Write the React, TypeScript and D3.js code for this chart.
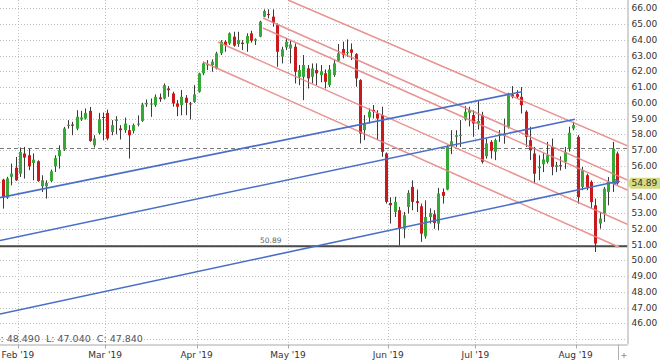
import React from "react";
import * as d3 from "d3";

// ---- Data (daily candles, left to right) ----
const opens = [
  55.12, 53.98, 55.3, 55.88, 55.5, 56.78, 56.67, 56.18, 56.29, 54.7,
  54.7, 55.04, 55.97, 56.61, 57.03, 58.55, 58.62, 58.36, 58.94, 59.0,
  59.49, 57.3, 58.09, 59.1, 59.36, 58.15, 58.85, 58.37, 58.26, 58.26,
  58.22, 58.62, 58.85, 59.9, 59.95, 59.85, 60.34, 60.27, 60.91, 60.59,
  59.96, 59.85, 60.32, 59.96, 60.06, 60.7, 61.87, 62.38, 62.4, 62.18,
  63.14, 63.88, 63.77, 64.2, 63.73, 63.82, 63.77, 64.41, 63.94, 64.2,
  65.47, 65.64, 65.47, 64.94, 62.93, 63.52, 63.45, 63.56, 61.65, 61.65,
  62.18, 61.65, 62.08, 61.76, 61.87, 61.12, 61.76, 62.67, 63.41, 63.18,
  63.39, 63.09, 61.44, 58.26, 59.07, 59.55, 59.32, 59.22, 56.78, 53.64,
  53.07, 53.18, 52.01, 53.39, 54.66, 53.75, 53.43, 51.52, 52.75, 52.92,
  52.33, 54.34, 54.49, 57.27, 57.84, 57.9, 58.94, 59.37, 59.22, 58.7,
  59.22, 56.61, 57.52, 56.89, 57.9, 57.9, 58.48, 60.53, 60.55, 60.38,
  59.43, 57.63, 56.78, 55.85, 56.1, 56.25, 57.2, 55.93, 56.04, 56.25,
  57.1, 58.37, 57.84, 54.66, 55.4, 54.98, 53.49, 52.33, 52.97, 54.34,
  54.87, 56.78,
];
const highs = [
  55.18, 55.3, 56.14, 56.56, 57.16, 57.2, 57.1, 56.78, 56.35, 55.4,
  55.08, 55.76, 56.67, 57.3, 58.47, 58.9, 58.79, 59.53, 59.49, 59.64,
  59.74, 57.94, 59.36, 59.38, 59.57, 58.9, 59.15, 58.58, 59.06, 58.58,
  58.68, 59.2, 60.0, 60.21, 60.27, 60.53, 60.59, 61.23, 61.06, 60.7,
  60.17, 60.81, 60.49, 60.06, 61.12, 61.91, 62.61, 62.71, 62.76, 63.24,
  63.98, 63.98, 64.47, 64.51, 64.51, 63.98, 64.41, 64.58, 64.09, 65.21,
  65.93, 65.93, 65.93, 65.04, 63.56, 64.09, 63.94, 63.77, 62.4, 63.03,
  62.4, 62.5, 62.5, 62.4, 62.12, 62.4, 62.75, 63.73, 63.88, 64.03,
  63.77, 63.15, 61.5, 59.22, 59.64, 59.86, 59.53, 59.75, 56.85, 54.0,
  54.03, 53.39, 53.07, 54.45, 55.08, 54.49, 53.6, 53.81, 53.3, 53.18,
  54.6, 54.56, 57.3, 58.26, 58.26, 58.9, 59.79, 59.75, 59.53, 60.1,
  59.43, 57.73, 57.63, 57.73, 58.27, 59.0, 60.64, 61.06, 60.8, 61.0,
  59.53, 58.48, 57.2, 56.67, 56.8, 57.52, 57.73, 56.25, 56.6, 57.2,
  58.48, 58.79, 57.95, 55.93, 55.5, 55.08, 53.92, 53.07, 54.66, 55.29,
  57.52, 56.9,
];
const lows = [
  53.28, 53.9, 54.76, 55.04, 55.29, 55.19, 55.72, 55.08, 54.98, 54.34,
  53.92, 54.97, 55.61, 55.82, 56.95, 58.36, 57.94, 58.26, 58.85, 58.94,
  57.52, 57.16, 58.0, 57.62, 57.62, 57.94, 58.0, 57.67, 58.09, 56.46,
  58.05, 58.5, 58.79, 59.74, 59.11, 59.74, 60.06, 60.21, 60.38, 59.75,
  59.15, 59.21, 59.21, 58.94, 60.0, 60.64, 61.76, 62.08, 61.97, 62.12,
  63.03, 63.24, 63.67, 63.56, 63.56, 63.35, 63.24, 63.82, 63.67, 64.16,
  65.43, 65.36, 64.83, 62.29, 62.5, 63.35, 62.5, 61.23, 61.12, 60.17,
  60.91, 61.23, 61.12, 61.3, 60.91, 61.0, 61.65, 62.6, 62.82, 62.92,
  62.71, 61.02, 57.42, 57.63, 58.69, 59.0, 57.63, 56.57, 53.6, 52.33,
  52.75, 50.95, 51.4, 52.97, 53.18, 53.07, 51.17, 51.38, 52.33, 52.0,
  51.9, 53.6, 54.45, 56.74, 57.2, 57.2, 58.86, 58.5, 57.84, 58.3,
  56.14, 56.46, 56.46, 56.36, 57.52, 57.4, 58.37, 60.28, 60.28, 59.32,
  57.2, 56.36, 54.87, 55.08, 55.6, 56.14, 55.4, 55.6, 55.7, 55.8,
  56.9, 58.26, 53.6, 54.45, 54.45, 53.28, 50.53, 52.01, 52.44, 53.49,
  54.34, 54.8,
];
const closes = [
  53.98, 55.2, 55.5, 55.08, 56.88, 56.52, 55.97, 56.39, 55.04, 55.08,
  54.91, 55.65, 56.5, 56.99, 58.37, 58.6, 58.54, 59.11, 59.07, 59.36,
  57.58, 57.73, 58.96, 59.07, 57.73, 58.58, 58.94, 58.26, 58.68, 57.94,
  58.58, 58.68, 59.89, 60.0, 59.95, 60.38, 60.23, 61.12, 60.8, 59.96,
  59.75, 60.38, 60.0, 59.9, 60.53, 61.87, 62.5, 62.46, 62.61, 63.14,
  63.88, 63.67, 64.41, 63.63, 63.98, 63.73, 64.24, 63.94, 64.03, 65.15,
  65.83, 65.57, 65.09, 63.24, 63.39, 63.88, 63.7, 61.97, 62.08, 62.4,
  61.55, 62.18, 61.87, 62.0, 61.33, 62.12, 62.5, 63.14, 63.03, 63.22,
  63.18, 61.55, 58.05, 58.69, 59.43, 59.45, 59.0, 56.89, 53.71, 53.5,
  53.71, 52.01, 52.86, 54.28, 53.71, 53.64, 51.69, 52.75, 53.0, 52.37,
  54.24, 54.09, 57.2, 57.56, 57.94, 57.96, 59.43, 59.54, 58.69, 58.85,
  56.25, 57.42, 56.95, 57.63, 58.0, 58.05, 60.6, 60.38, 60.38, 59.85,
  57.84, 56.99, 55.5, 55.95, 56.4, 56.67, 55.93, 56.04, 55.97, 56.88,
  58.1, 58.58, 54.02, 55.72, 54.66, 53.7, 51.06, 52.65, 54.55, 54.98,
  57.1, 54.89,
];

// month tick labels and their positions (in candle-index units)
const monthLabels = ["Feb '19", "Mar '19", "Apr '19", "May '19", "Jun '19", "Jul '19", "Aug '19"];
const monthPositions = [3.5, 23.5, 44.5, 65.5, 88.5, 108.5, 131.5];

// price axis ticks
const priceTicks = [46, 47, 48, 49, 50, 51, 52, 53, 54, 55, 56, 57, 58, 59, 60, 61, 62, 63, 64, 65, 66];
const gridPrices = [45, 46, 47, 48, 49, 50, 51, 52, 53, 54, 55, 56, 57, 58, 59, 60, 61, 62, 63, 64, 65, 66];

// trend lines: [startIndex, startPrice, endIndex, endPrice]
const redLines = [
  [65.48, 66.527, 143.51, 57.257],
  [59.74, 65.384, 143.51, 55.073],
  [59.74, 64.749, 143.51, 54.438],
  [49.41, 63.86, 143.51, 52.273],
  [45.97, 62.59, 141.0, 50.895],
];
const blueLines = [
  [-0.62, 53.981, 119.2, 60.705],
  [-0.62, 51.257, 131.35, 58.952],
  [-0.62, 46.59, 141.0, 55.003],
];

const supportLevel = 50.89;
const dashedLevel = 57.15;
const lastPrice = 54.89;
const ohlcText = ": 48.490  L: 47.040  C: 47.840";

export default function App() {
  const W = 660;
  const H = 361;
  const plotRight = 627.5;
  const plotBottom = 344.5;
  const font = "'DejaVu Sans', Verdana, sans-serif";

  const x = d3.scaleLinear().domain([0, 141]).range([2.7, 617]);
  const y = d3.scaleLinear().domain([46, 66]).range([323.3, 8.3]);
  const crisp = (v: number) => Math.round(v) + 0.5;
  const line = d3
    .line<[number, number]>()
    .x((d) => x(d[0]))
    .y((d) => y(d[1]));

  const candles = opens.map((o, i) => ({ o, h: highs[i], l: lows[i], c: closes[i], i }));

  const yLast = y(lastPrice);
  const l5 = redLines[4];
  const bc = blueLines[2];
  const visibleTicks = priceTicks.filter((p) => Math.abs(y(p) - yLast) > 9);

  return (
    <svg
      width={W}
      height={H}
      style={{ position: "absolute", left: 0, top: 0, background: "#fff" }}
      fontFamily={font}
    >
      <defs>
        <clipPath id="plotClip">
          <rect x={0} y={0} width={plotRight} height={plotBottom} />
        </clipPath>
      </defs>
      <rect x={0} y={0} width={W} height={H} fill="#fff" />

      {/* grid */}
      <g stroke="#c0c0c0" strokeWidth={1} strokeDasharray="1,2">
        {gridPrices.map((p) => (
          <line key={"h" + p} x1={0} x2={plotRight} y1={crisp(y(p))} y2={crisp(y(p))} />
        ))}
        {monthPositions.map((m, k) => (
          <line key={"v" + k} x1={crisp(x(m))} x2={crisp(x(m))} y1={0} y2={plotBottom} />
        ))}
      </g>

      <g clipPath="url(#plotClip)">
        {/* dashed reference line */}
        <line
          x1={0}
          x2={plotRight}
          y1={crisp(y(dashedLevel))}
          y2={crisp(y(dashedLevel))}
          stroke="#7a7a7a"
          strokeDasharray="4,3"
          strokeWidth={1}
        />
        {/* support line */}
        <line x1={0} x2={plotRight} y1={y(supportLevel)} y2={y(supportLevel)} stroke="#4a4a4a" strokeWidth={2} />
        <text x={260} y={y(supportLevel) - 3} fontSize={7.5} fill="#666">
          {supportLevel.toFixed(2)}
        </text>

        {/* candles */}
        {candles.map((d) => {
          const cx = Math.round(x(d.i));
          const up = d.c >= d.o;
          const top = y(Math.max(d.o, d.c));
          const bot = y(Math.min(d.o, d.c));
          const h = Math.max(1, bot - top);
          return (
            <g key={d.i}>
              <line x1={cx + 0.5} x2={cx + 0.5} y1={y(d.h)} y2={y(d.l)} stroke="#3a3a3a" strokeWidth={1} />
              <rect x={cx - 1} y={top} width={3} height={h} fill={up ? "#35a835" : "#c9191c"} />
            </g>
          );
        })}

        {/* red channel lines */}
        {redLines.map((r, k) => (
          <path
            key={"r" + k}
            d={line([
              [r[0], r[1]],
              [r[2], r[3]],
            ]) as string}
            stroke="#e57f7f"
            strokeOpacity={0.85}
            strokeWidth={1.5}
            fill="none"
          />
        ))}
        <circle cx={x(l5[2])} cy={y(l5[3])} r={1.8} fill="#f0a0a0" />

        {/* blue trend lines */}
        {blueLines.map((b, k) => (
          <path
            key={"b" + k}
            d={line([
              [b[0], b[1]],
              [b[2], b[3]],
            ]) as string}
            stroke="#4a6ec8"
            strokeWidth={1.6}
            fill="none"
          />
        ))}
        <path
          d={`M${x(bc[2]) - 3},${y(bc[3]) - 2.5} L${x(bc[2]) + 2},${y(bc[3])} L${x(bc[2]) - 3},${y(bc[3]) + 2.5}`}
          stroke="#4a6ec8"
          strokeWidth={1.4}
          fill="none"
        />
      </g>

      {/* OHLC readout */}
      <text x={0.5} y={342} fontSize={9.5} fill="#555" style={{ whiteSpace: "pre" }}>
        {ohlcText}
      </text>

      {/* axes */}
      <line x1={plotRight + 0.5} x2={plotRight + 0.5} y1={0} y2={plotBottom} stroke="#a8a8a8" />
      <line x1={0} x2={plotRight} y1={plotBottom + 0.5} y2={plotBottom + 0.5} stroke="#a8a8a8" />
      {visibleTicks.map((p) => (
        <text key={"yl" + p} x={631.5} y={y(p)} dy="0.35em" fontSize={9} fill="#333">
          {p.toFixed(2)}
        </text>
      ))}
      {monthPositions.map((m, k) => (
        <g key={"xl" + k}>
          <line x1={crisp(x(m))} x2={crisp(x(m))} y1={plotBottom} y2={plotBottom + 4} stroke="#a8a8a8" />
          <text x={x(m)} y={357.5} fontSize={9} fill="#333" textAnchor="middle">
            {monthLabels[k]}
          </text>
        </g>
      ))}
      <line x1={618.5} x2={618.5} y1={plotBottom} y2={360} stroke="#b0b0b0" />
      <g stroke="#999" strokeWidth={1}>
        <line x1={621.5} x2={626.5} y1={355.5} y2={355.5} />
        <line x1={624} x2={624} y1={353} y2={358} />
      </g>

      {/* last price label */}
      <polygon
        points={`${plotRight},${yLast} ${plotRight + 3},${yLast - 5.5} ${W},${yLast - 5.5} ${W},${yLast + 5.5} ${plotRight + 3},${yLast + 5.5}`}
        fill="#d6da80"
      />
      <text x={631.5} y={yLast} dy="0.35em" fontSize={9} fill="#333">
        {lastPrice.toFixed(2)}
      </text>
    </svg>
  );
}
